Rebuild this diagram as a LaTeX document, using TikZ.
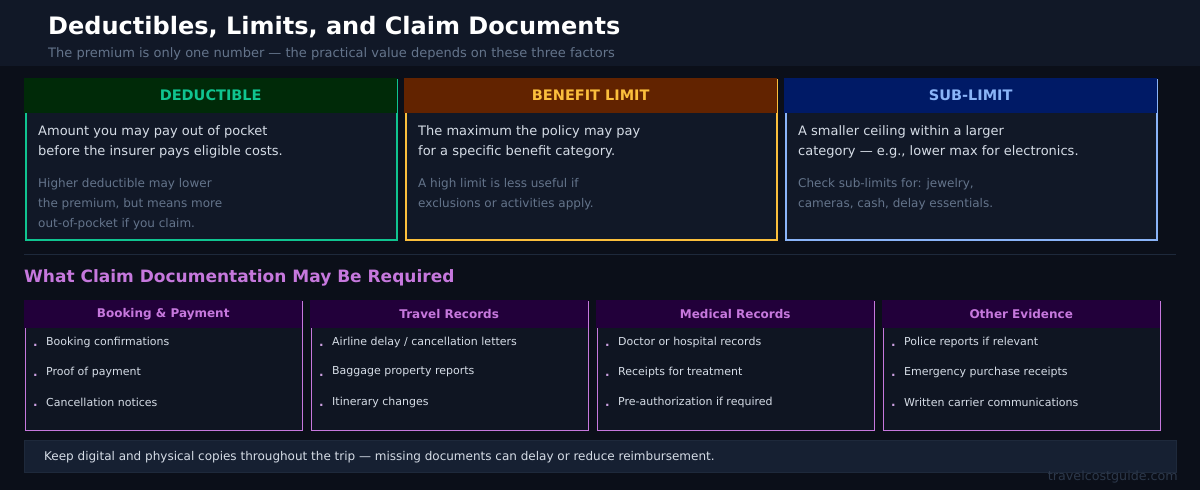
\documentclass[tikz,border=0pt]{standalone}
\usepackage{fontspec}
\setmainfont{DejaVu Sans}
\usetikzlibrary{positioning}
\definecolor{bgdark}{HTML}{0B0F19}
\definecolor{bandbg}{HTML}{111827}
\definecolor{cardbg}{HTML}{111827}
\definecolor{docbg}{HTML}{0F1522}
\definecolor{mutedgrey}{HTML}{64748B}
\definecolor{bodytext}{HTML}{D5DCE6}
\definecolor{dedgreen}{HTML}{10C490}
\definecolor{dedhead}{HTML}{002A08}
\definecolor{limorange}{HTML}{FBBF3C}
\definecolor{limhead}{HTML}{622300}
\definecolor{subblue}{HTML}{8AB4F8}
\definecolor{subhead}{HTML}{001A66}
\definecolor{docpurple}{HTML}{C678DD}
\definecolor{dochead}{HTML}{22003A}
\definecolor{notebg}{HTML}{162032}
\definecolor{rulegrey}{HTML}{1E293B}

\begin{document}
\begin{tikzpicture}[x=1pt,y=-1pt,
    cardhead/.style={rectangle, anchor=north west, minimum width=373pt, minimum height=35pt, inner sep=0pt, font=\bfseries\fontsize{14.5}{17}\selectfont},
    cardbody/.style={rectangle, anchor=north west, minimum width=371pt, minimum height=160pt, inner sep=0pt, fill=cardbg, line width=1.5pt},
    maintext/.style={anchor=west, inner sep=0pt, text=bodytext, font=\fontsize{13}{15}\selectfont},
    subtext/.style={anchor=west, inner sep=0pt, text=mutedgrey, font=\fontsize{12}{14}\selectfont},
    dochd/.style={rectangle, anchor=north west, minimum width=278pt, minimum height=28pt, inner sep=0pt, fill=dochead, text=docpurple, font=\bfseries\fontsize{12}{14}\selectfont},
    docbody/.style={rectangle, anchor=north west, minimum width=277pt, minimum height=129pt, inner sep=0pt, fill=docbg, draw=docpurple, line width=1pt},
    item/.style={anchor=west, inner sep=0pt, text=bodytext, font=\fontsize{11}{13}\selectfont}]

    % Background and header band
    \fill[bgdark] (0,0) rectangle (1200,490);
    \useasboundingbox (0,0) rectangle (1200,490);
    \fill[bandbg] (0,0) rectangle (1200,66);
    \node[anchor=west, inner sep=0pt, text=white, font=\bfseries\fontsize{24}{28}\selectfont] (title) at (48,27) {Deductibles, Limits, and Claim Documents};
    \node[anchor=west, inner sep=0pt, text=mutedgrey, font=\fontsize{13}{16}\selectfont] (subtitle) at (48,54) {The premium is only one number — the practical value depends on these three factors};

    % Three factor cards
    \foreach \nm/\x/\hd/\tc/\ttl in {ded/24/dedhead/dedgreen/DEDUCTIBLE, lim/404/limhead/limorange/BENEFIT LIMIT, sub/784/subhead/subblue/SUB-LIMIT}{
        \node[cardbody, draw=\tc] (\nm body) at (\x+1,79) {};
        \node[cardhead, fill=\hd, text=\tc] (\nm head) at (\x,78) {\ttl};
    }
    \node[maintext] (ded1) at (38,132) {Amount you may pay out of pocket};
    \node[maintext] (ded2) at (38,152) {before the insurer pays eligible costs.};
    \node[subtext] (ded3) at (38,184) {Higher deductible may lower};
    \node[subtext] (ded4) at (38,204) {the premium, but means more};
    \node[subtext] (ded5) at (38,224) {out-of-pocket if you claim.};
    \node[maintext] (lim1) at (418,132) {The maximum the policy may pay};
    \node[maintext] (lim2) at (418,152) {for a specific benefit category.};
    \node[subtext] (lim3) at (418,184) {A high limit is less useful if};
    \node[subtext] (lim4) at (418,204) {exclusions or activities apply.};
    \node[maintext] (sub1) at (798,132) {A smaller ceiling within a larger};
    \node[maintext] (sub2) at (798,152) {category — e.g., lower max for electronics.};
    \node[subtext] (sub3) at (798,184) {Check sub-limits for: jewelry,};
    \node[subtext] (sub4) at (798,204) {cameras, cash, delay essentials.};

    % Separator and documentation heading
    \draw[rulegrey, line width=1pt] (24,254) -- (1176,254);
    \node[anchor=west, inner sep=0pt, text=docpurple, font=\bfseries\fontsize{17}{20}\selectfont] (docs) at (24,278) {What Claim Documentation May Be Required};

    % Document cards
    \foreach \nm/\x/\ttl/\a/\b/\c in {book/24/Booking \& Payment/Booking confirmations/Proof of payment/Cancellation notices,
        trav/310/Travel Records/{Airline delay / cancellation letters}/Baggage property reports/Itinerary changes,
        med/596/Medical Records/Doctor or hospital records/Receipts for treatment/Pre-authorization if required,
        oth/882/Other Evidence/Police reports if relevant/Emergency purchase receipts/Written carrier communications}{
        \node[docbody] (\nm body) at (\x+0.5,300.5) {};
        \node[dochd] (\nm head) at (\x,300) {\ttl};
        \foreach \it/\y in {{\a}/342,{\b}/372,{\c}/402}{
            \node[anchor=west, inner sep=0pt, text=docpurple!60!bodytext, font=\bfseries\fontsize{12}{13}\selectfont] at (\x+9,\y+3) {.};
            \node[item] at (\x+22,\y) {\it};
        }
    }

    % Footer note
    \node[rectangle, anchor=north west, minimum width=1152pt, minimum height=32pt, inner sep=0pt, fill=notebg, draw=rulegrey, line width=0.8pt] (note) at (24,440) {};
    \node[anchor=west, inner sep=0pt, text=bodytext, font=\fontsize{12}{14}\selectfont] (notetext) at (44,457) {Keep digital and physical copies throughout the trip — missing documents can delay or reduce reimbursement.};
    \node[anchor=east, inner sep=0pt, text=rulegrey!80!mutedgrey, font=\fontsize{12.7}{14}\selectfont] (site) at (1178,477) {travelcostguide.com};
\end{tikzpicture}
\end{document}
